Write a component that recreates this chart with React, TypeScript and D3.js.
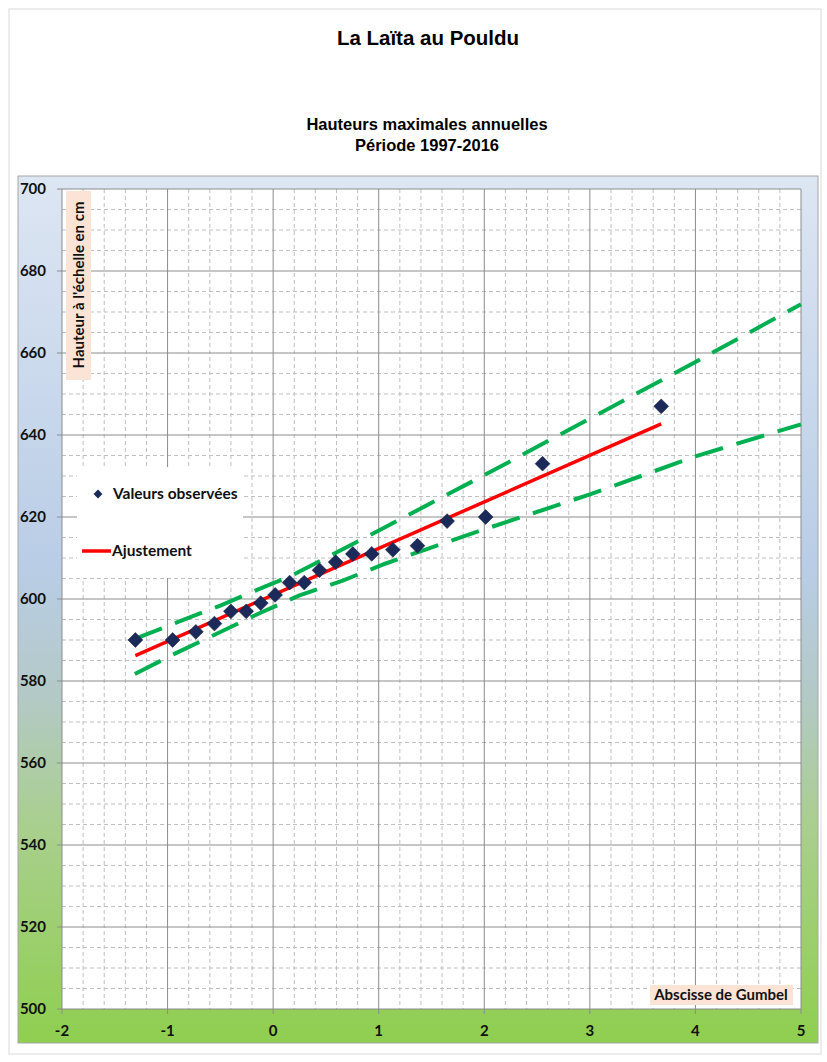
import * as d3 from "d3";

// Gumbel reduced variate of each observed annual maximum (1997-2016, sorted)
const obsU = [-1.305, -0.952, -0.732, -0.556, -0.4, -0.255, -0.117, 0.019, 0.156, 0.295,
  0.439, 0.592, 0.755, 0.934, 1.134, 1.367, 1.648, 2.013, 2.552, 3.676];
// observed heights (cm)
const obsH = [590, 590, 592, 594, 597, 597, 599, 601, 604, 604,
  607, 609, 611, 611, 612, 613, 619, 620, 633, 647];

// fitted line
const fitU = [-1.305, 3.676];
const fitH = [586.2, 642.7];

// confidence bounds
const upperU = [-1.31, -0.9, -0.5, -0.09, 0.16, 1.06, 2, 3, 4, 5];
const upperH = [590.3, 594.4, 598.4, 602.9, 605.5, 617.5, 630.2, 644.0, 657.8, 671.9];
const lowerU = [-1.31, -0.92, -0.52, -0.14, 0.25, 0.66, 1.06, 1.47, 2, 3, 4, 5];
const lowerH = [581.7, 586.8, 591.7, 596.4, 600.9, 604.5, 608.6, 612.3, 617.0, 625.5, 634.8, 642.6];

const xTicks = [-2, -1, 0, 1, 2, 3, 4, 5];
const yTicks = [500, 520, 540, 560, 580, 600, 620, 640, 660, 680, 700];

const W = 827;
const H = 1062;
const box = { x: 18, y: 176, w: 800, h: 867 };
const plot = { left: 62, right: 801, top: 189, bottom: 1009 };

const calibri = "Lato, 'Open Sans', sans-serif";
const arial = "'Liberation Sans', Arial, sans-serif";

export default function App() {
  const x = d3.scaleLinear().domain([-2, 5]).range([plot.left, plot.right]);
  const y = d3.scaleLinear().domain([500, 700]).range([plot.bottom, plot.top]);

  const minorX = x.ticks(35).filter((t) => Math.abs(t - Math.round(t)) > 1e-6);
  const minorY = y.ticks(50).filter((t) => t % 20 !== 0);

  const line = d3
    .line<[number, number]>()
    .x((d) => x(d[0]))
    .y((d) => y(d[1]));
  const upper = upperU.map((u, i) => [u, upperH[i]] as [number, number]);
  const lower = lowerU.map((u, i) => [u, lowerH[i]] as [number, number]);
  const fit = fitU.map((u, i) => [u, fitH[i]] as [number, number]);
  const diamond = d3.symbol(d3.symbolSquare, 110)();

  return (
    <svg
      width={W}
      height={H}
      style={{ position: "absolute", left: 0, top: 0, background: "#fff" }}
    >
      <defs>
        <linearGradient id="bg" x1="0" y1="0" x2="0" y2="1">
          <stop offset="0" stopColor="#dde6f3" />
          <stop offset="0.45" stopColor="#b9cde6" />
          <stop offset="0.6" stopColor="#b3c9c6" />
          <stop offset="0.75" stopColor="#a9cf8e" />
          <stop offset="1" stopColor="#8fcf4f" />
        </linearGradient>
      </defs>
      <rect x={9} y={9} width={812} height={1045} fill="#fff" stroke="#d9d9d9" />

      <text x={428} y={45} textAnchor="middle" fontFamily={arial} fontWeight="bold" fontSize={20.5}>
        La Laïta au Pouldu
      </text>
      <text x={427} y={130} textAnchor="middle" fontFamily={arial} fontWeight="bold" fontSize={16.5}>
        Hauteurs maximales annuelles
      </text>
      <text x={427} y={151} textAnchor="middle" fontFamily={arial} fontWeight="bold" fontSize={16.5}>
        Période 1997-2016
      </text>

      <rect x={box.x} y={box.y} width={box.w} height={box.h} fill="url(#bg)" stroke="#a6a6a6" />
      <rect
        x={plot.left}
        y={plot.top}
        width={plot.right - plot.left}
        height={plot.bottom - plot.top}
        fill="#fff"
      />

      <g stroke="#bfbfbf" strokeWidth={1} strokeDasharray="4,3">
        {minorX.map((t) => (
          <line key={"mx" + t} x1={x(t)} x2={x(t)} y1={plot.top} y2={plot.bottom} />
        ))}
        {minorY.map((t) => (
          <line key={"my" + t} y1={y(t)} y2={y(t)} x1={plot.left} x2={plot.right} />
        ))}
      </g>
      <g stroke="#8c8c8c" strokeWidth={1}>
        {xTicks.map((t) => (
          <line key={"x" + t} x1={x(t)} x2={x(t)} y1={plot.top} y2={plot.bottom + 5} />
        ))}
        {yTicks.map((t) => (
          <line key={"y" + t} y1={y(t)} y2={y(t)} x1={plot.left - 5} x2={plot.right} />
        ))}
      </g>

      {/* legend box hides grid */}
      <rect x={77} y={467} width={166} height={111} fill="#fff" />
      <path d={diamond} transform="translate(98,494) rotate(45) scale(0.6)" fill="#1c2a5a" />
      <text x={113} y={499} fontFamily={calibri} fontWeight="bold" fontSize={15.5} fill="#111">
        Valeurs observées
      </text>
      <line x1={82} x2={111} y1={551} y2={551} stroke="#ff0000" strokeWidth={3.5} />
      <text x={112} y={556} fontFamily={calibri} fontWeight="bold" fontSize={15.5} fill="#111">
        Ajustement
      </text>

      {/* axis title boxes */}
      <rect x={66} y={191} width={25} height={189} fill="#fbe4d5" />
      <text
        transform="translate(84,285) rotate(-90)"
        textAnchor="middle"
        fontFamily={calibri}
        fontWeight="bold"
        fontSize={15}
        fill="#111"
      >
        Hauteur à l'échelle en cm
      </text>
      <rect x={650} y={985} width={143} height={20} fill="#fbe4d5" />
      <text x={721} y={1000} textAnchor="middle" fontFamily={calibri} fontWeight="bold" fontSize={15} fill="#111">
        Abscisse de Gumbel
      </text>

      <path d={line(upper) || ""} fill="none" stroke="#00b050" strokeWidth={4} strokeDasharray="29,14" />
      <path d={line(lower) || ""} fill="none" stroke="#00b050" strokeWidth={4} strokeDasharray="29,14" />
      <path d={line(fit) || ""} fill="none" stroke="#ff0000" strokeWidth={3.5} />

      {obsU.map((u, i) => (
        <path
          key={"p" + i}
          d={diamond}
          transform={`translate(${x(u)},${y(obsH[i])}) rotate(45)`}
          fill="#1c2a5a"
          stroke="#0f1a3d"
          strokeWidth={0.5}
        />
      ))}

      <g fontFamily={calibri} fontWeight="bold" fontSize={15} fill="#111">
        {xTicks.map((t) => (
          <text key={"xl" + t} x={x(t)} y={1036} textAnchor="middle">
            {t}
          </text>
        ))}
        {yTicks.map((t) => (
          <text key={"yl" + t} x={46} y={y(t) + 5} textAnchor="end">
            {t}
          </text>
        ))}
      </g>
    </svg>
  );
}
